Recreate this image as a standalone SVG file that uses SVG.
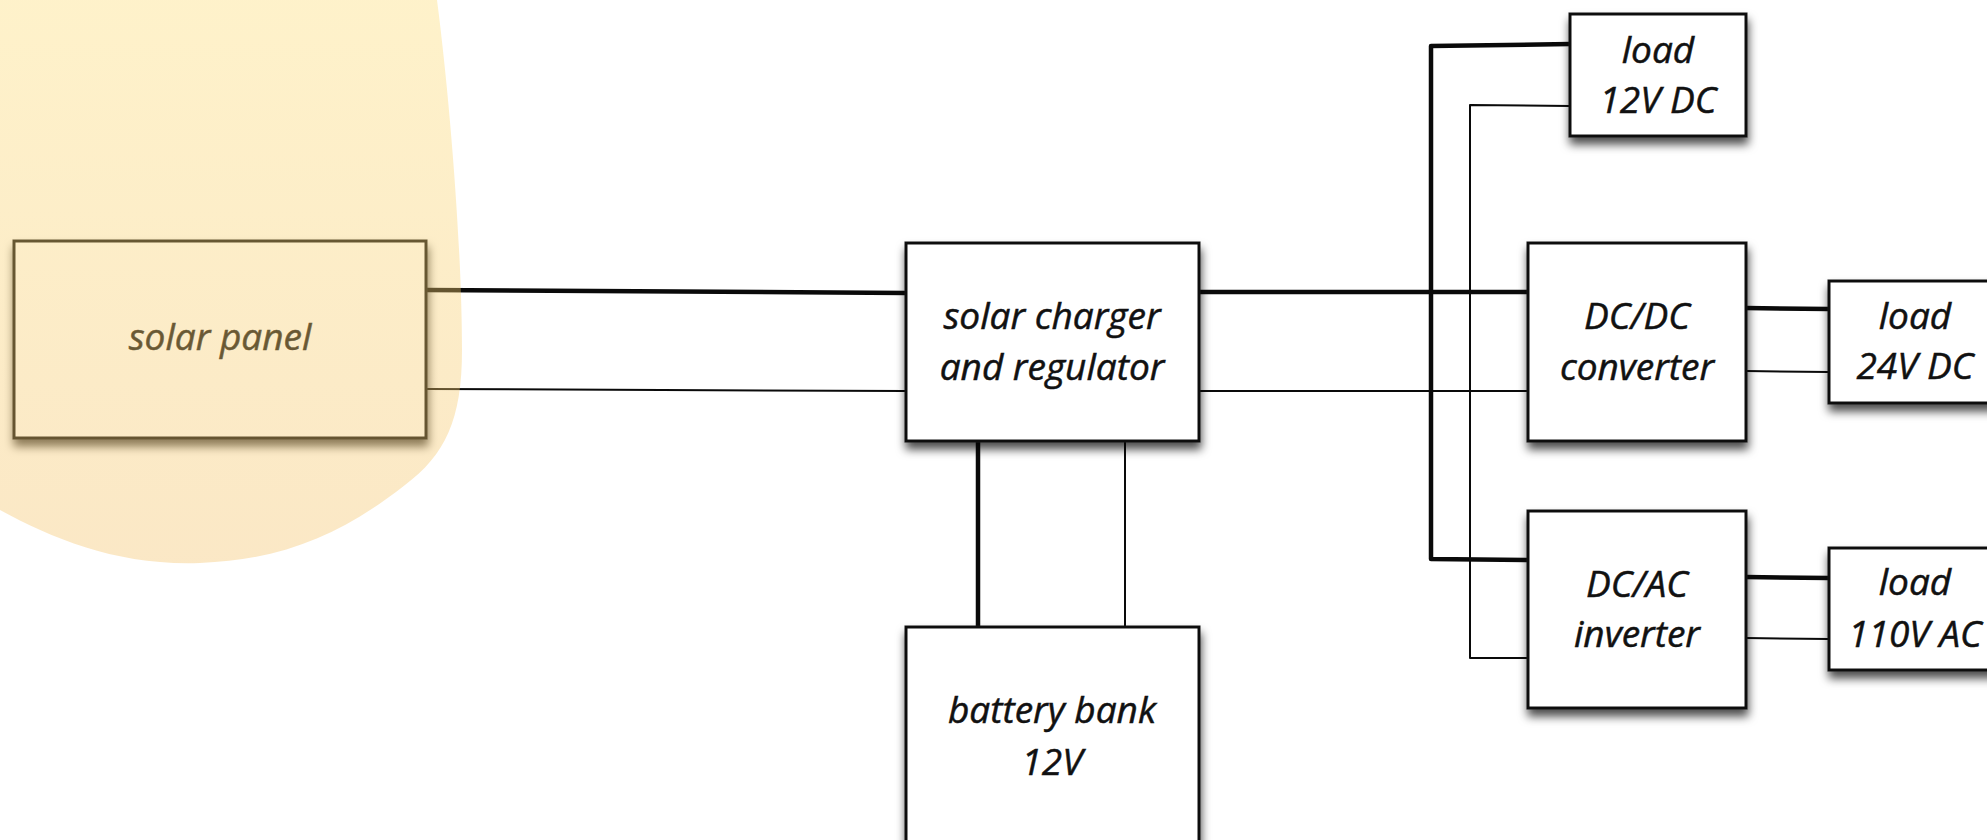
<svg xmlns="http://www.w3.org/2000/svg" width="1987" height="840" viewBox="0 0 1987 840">
<style>
.box{fill:#ffffff;stroke:#111111;stroke-width:3;filter:url(#sh);}
.lbl{font-family:"Open Sans","Liberation Sans",sans-serif;font-style:italic;font-size:37px;fill:#111111;stroke:#111111;stroke-width:0.5;text-anchor:middle;}
.thick{fill:none;stroke:#0a0a0a;stroke-width:4.5;stroke-linecap:round;stroke-linejoin:round;}
.thin{fill:none;stroke:#0a0a0a;stroke-width:2;stroke-linecap:round;stroke-linejoin:round;}
</style>
<defs>
<filter id="sh" x="-20%" y="-20%" width="140%" height="150%">
<feDropShadow dx="1" dy="7" stdDeviation="5" flood-color="#000000" flood-opacity="0.7"/>
</filter>
<linearGradient id="sun" x1="0" y1="0" x2="0" y2="1">
<stop offset="0" stop-color="#fddc74"/>
<stop offset="1" stop-color="#f4c268"/>
</linearGradient>
</defs>
<rect x="0" y="0" width="1987" height="840" fill="#ffffff"/>

<g id="connectors">
<path class="thick" d="M426,290 L906,293"/>
<path class="thin" d="M426,389 L906,391"/>
<path class="thick" d="M1199,292 L1528,292"/>
<path class="thin" d="M1199,391 L1528,391"/>
<path class="thick" d="M1570,44 L1431,46 L1431,559 L1528,560"/>
<path class="thin" d="M1570,106 L1470,105 L1470,658 L1528,658"/>
<path class="thick" d="M978,441 L978,627"/>
<path class="thin" d="M1125,441 L1125,627"/>
<path class="thick" d="M1746,308 L1829,309"/>
<path class="thin" d="M1746,371 L1829,372"/>
<path class="thick" d="M1746,577 L1829,578"/>
<path class="thin" d="M1746,638 L1829,639"/>
</g>

<g id="solar-panel">
<rect class="box" x="14" y="241" width="412" height="197"/>
<text class="lbl" x="220" y="350">solar panel</text>
</g>

<g id="charger">
<rect class="box" x="906" y="243" width="293" height="198"/>
<text class="lbl" x="1052" y="329">solar charger</text>
<text class="lbl" x="1052" y="380">and regulator</text>
</g>

<g id="battery">
<rect class="box" x="906" y="627" width="293" height="250"/>
<text class="lbl" x="1052" y="723">battery bank</text>
<text class="lbl" x="1052" y="775">12V</text>
</g>

<g id="load-12v">
<rect class="box" x="1570" y="14" width="176" height="122"/>
<text class="lbl" x="1658" y="63">load</text>
<text class="lbl" x="1658" y="113">12V DC</text>
</g>

<g id="dcdc">
<rect class="box" x="1528" y="243" width="218" height="198"/>
<text class="lbl" x="1637" y="329">DC/DC</text>
<text class="lbl" x="1637" y="380">converter</text>
</g>

<g id="load-24v">
<rect class="box" x="1829" y="281" width="176" height="122"/>
<text class="lbl" x="1915" y="329">load</text>
<text class="lbl" x="1915" y="379">24V DC</text>
</g>

<g id="dcac">
<rect class="box" x="1528" y="511" width="218" height="197"/>
<text class="lbl" x="1637" y="597">DC/AC</text>
<text class="lbl" x="1637" y="647">inverter</text>
</g>

<g id="load-110v">
<rect class="box" x="1829" y="548" width="176" height="122"/>
<text class="lbl" x="1915" y="595">load</text>
<text class="lbl" x="1915" y="647">110V AC</text>
</g>

<g id="sun-glow">
<path d="M0,0 L437,0 C450,100 462,250 462,350 C462,420 445,455 405,485 C345,532 285,560 200,563 C120,566 55,540 0,510 Z" fill="url(#sun)" fill-opacity="0.38"/>
</g>
</svg>
